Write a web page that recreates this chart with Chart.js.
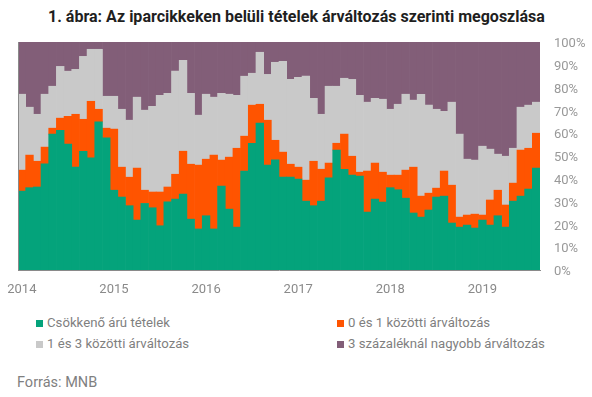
<!DOCTYPE html>
<html>
<head>
<meta charset="utf-8">
<script src="https://cdn.jsdelivr.net/npm/chart.js@4.4.1/dist/chart.umd.min.js"></script>
<style>
  body { margin: 0; background: #fff; font-family: Roboto, 'Noto Sans', sans-serif; }
  #wrap { position: relative; width: 592px; height: 397px; overflow: hidden; }
  #title { position: absolute; top: 6px; left: 0; width: 592px; text-align: center;
           font-size: 17px; font-weight: 700; color: #1f1f1f; white-space: nowrap; }
  #title span { display: inline-block; transform-origin: center center; }
  #chartBox { position: absolute; left: 0; top: 0; width: 592px; height: 305px; }
  .leg { position: absolute; font-size: 13.2px; line-height: 16px; color: #7f7f7f; white-space: nowrap; }
  .leg i { position: absolute; left: 0; top: 4.5px; width: 7px; height: 7px; }
  .leg span { position: absolute; left: 11px; top: 0; }
  #source { position: absolute; left: 17px; top: 374px; font-size: 14.5px; color: #7f7f7f; }
</style>
</head>
<body>
<div id="wrap">
  <div id="title"><span>1. ábra: Az iparcikkeken belüli tételek árváltozás szerinti megoszlása</span></div>
  <div id="chartBox"><canvas id="chart"></canvas></div>
  <div id="legend"></div>
  <div id="source">Forrás: MNB</div>
</div>
<script>
// évek a vízszintes tengelyen (havi adatok 2014 januártól)
const yearLabels = ['2014', '2015', '2016', '2017', '2018', '2019'];
const monthsInLastYear = 8;

const seriesNames = [
    'Csökkenő árú tételek',
    '0 és 1 közötti árváltozás',
    '1 és 3 közötti árváltozás',
    '3 százaléknál nagyobb árváltozás'
];
const seriesColors = ['#04a37b', '#ff5400', '#c9c9c9', '#825e78'];

// százalékos megoszlás, havonta
const decreasing = [
    34.6, 36.1, 36.4, 46.6, 59.6, 61.3, 55.2, 45.1, 52.1, 49.2, 65.0, 58.0,
    35.0, 32.0, 28.2, 21.9, 29.2, 27.3, 19.4, 29.9, 31.1, 33.3, 22.3, 18.0,
    23.8, 18.0, 36.8, 26.7, 18.8, 43.4, 55.6, 64.4, 46.0, 48.3, 40.7, 40.7,
    39.9, 30.2, 28.2, 30.2, 40.4, 52.6, 44.2, 41.6, 41.2, 25.4, 31.1, 29.8,
    36.1, 35.2, 31.5, 25.0, 23.2, 26.3, 32.0, 32.4, 20.6, 18.8, 19.7, 18.4,
    21.9, 19.7, 23.8, 18.8, 30.2, 32.4, 35.5, 44.7
];
const between0and1 = [
    9.2, 14.3, 11.3, 7.3, 2.6, 5.3, 12.2, 23.2, 14.0, 24.8, 5.5, 4.2,
    26.8, 13.1, 12.5, 22.8, 5.8, 6.9, 14.8, 6.5, 10.9, 18.8, 24.1, 28.0,
    24.8, 32.4, 11.4, 22.8, 34.6, 15.3, 16.7, 8.3, 19.7, 8.6, 11.0, 5.7,
    5.2, 9.2, 19.5, 14.0, 6.5, 3.0, 15.4, 8.3, 1.7, 18.0, 15.8, 13.1,
    5.5, 6.4, 12.3, 20.1, 9.2, 7.4, 3.9, 11.0, 16.6, 4.4, 4.4, 6.1,
    2.2, 11.0, 11.2, 9.7, 7.9, 20.2, 17.9, 15.3
];
const between1and3 = [
    33.3, 21.0, 20.6, 23.2, 18.4, 22.7, 19.8, 19.7, 27.6, 22.8, 26.3, 14.0,
    14.4, 25.4, 25.0, 31.1, 35.1, 37.6, 42.4, 41.1, 45.2, 39.9, 31.1, 21.9,
    28.5, 25.4, 29.3, 27.6, 23.2, 26.3, 14.0, 22.8, 20.1, 34.2, 39.8, 37.2,
    39.4, 45.6, 27.6, 24.1, 33.7, 25.0, 24.5, 33.7, 33.7, 30.2, 28.4, 32.0,
    28.9, 31.1, 33.3, 29.4, 44.7, 38.6, 34.6, 26.2, 36.4, 36.4, 24.5, 23.7,
    30.2, 22.3, 15.8, 21.4, 15.3, 18.8, 18.9, 13.6
];
const above3 = [
    22.9, 28.6, 31.7, 22.9, 19.4, 10.7, 12.8, 12.0, 6.3, 3.2, 3.2, 23.8,
    23.8, 29.5, 34.3, 24.2, 29.9, 28.2, 23.4, 22.5, 12.8, 8.0, 22.5, 32.1,
    22.9, 24.2, 22.5, 22.9, 23.4, 15.0, 13.7, 4.5, 14.2, 8.9, 8.5, 16.4,
    15.5, 15.0, 24.7, 31.7, 19.4, 19.4, 15.9, 16.4, 23.4, 26.4, 24.7, 25.1,
    29.5, 27.3, 22.9, 25.5, 22.9, 27.7, 29.5, 30.4, 26.4, 40.4, 51.4, 51.8,
    45.7, 47.0, 49.2, 50.1, 46.6, 28.6, 27.7, 26.4
];

// havi kategóriák: "2014-01" ...
const months = [];
yearLabels.forEach((y, i) => {
    const n = (i === yearLabels.length - 1) ? monthsInLastYear : 12;
    for (let m = 1; m <= n; m++) months.push(y + '-' + String(m).padStart(2, '0'));
});

// cím összenyomása (keskeny betűtípus helyett)
const titleSpan = document.querySelector('#title span');
titleSpan.style.transform = 'scaleX(' + (497 / titleSpan.offsetWidth) + ')';

// jelmagyarázat két oszlopban
const legendPos = [[36, 315], [337, 315], [36, 336], [337, 336]];
const legendEl = document.getElementById('legend');
[0, 1, 2, 3].forEach(i => {
    const d = document.createElement('div');
    d.className = 'leg';
    d.style.left = legendPos[i][0] + 'px';
    d.style.top = legendPos[i][1] + 'px';
    d.innerHTML = '<i style="background:' + seriesColors[i] + '"></i><span>' + seriesNames[i] + '</span>';
    legendEl.appendChild(d);
});

// bal oldali szürke keretvonal
const leftBorder = {
    id: 'leftBorder',
    afterDatasetsDraw(chart) {
        const {ctx, chartArea} = chart;
        ctx.save();
        ctx.strokeStyle = '#8a8a8a';
        ctx.lineWidth = 1;
        ctx.beginPath();
        ctx.moveTo(chartArea.left + 0.5, chartArea.top);
        ctx.lineTo(chartArea.left + 0.5, chartArea.bottom);
        ctx.stroke();
        ctx.restore();
    }
};

const seriesData = [decreasing, between0and1, between1and3, above3];

const ctx = document.getElementById('chart').getContext('2d');
new Chart(ctx, {
    type: 'bar',
    data: {
        labels: months,
        datasets: seriesData.map((vals, i) => ({
            label: seriesNames[i],
            data: vals,
            backgroundColor: seriesColors[i],
            borderWidth: 0,
            barPercentage: 1.0,
            categoryPercentage: 1.0
        }))
    },
    options: {
        responsive: true,
        maintainAspectRatio: false,
        animation: false,
        layout: { padding: { left: 18, right: 0, top: 42, bottom: 0 } },
        plugins: {
            legend: { display: false },
            tooltip: { enabled: false }
        },
        scales: {
            x: {
                stacked: true,
                grid: { display: false, drawTicks: false },
                border: { display: true, color: '#8a8a8a', width: 1 },
                ticks: {
                    autoSkip: false,
                    maxRotation: 0,
                    padding: 12,
                    color: '#8a8a8a',
                    font: { family: 'Roboto', size: 13 },
                    callback: function (value, index) {
                        return index % 12 === 0 ? yearLabels[index / 12] : '';
                    }
                },
                afterFit: (axis) => {
                    axis.height = 35;
                    axis.paddingLeft = 0;
                    axis.paddingRight = 0;
                }
            },
            y: {
                stacked: true,
                position: 'right',
                min: 0,
                max: 100,
                grid: { display: false, drawTicks: false },
                border: { display: false },
                ticks: {
                    stepSize: 10,
                    padding: 14,
                    labelOffset: 2,
                    color: '#999999',
                    font: { family: 'Roboto', size: 13 },
                    callback: (v) => v + '%'
                },
                afterFit: (axis) => { axis.width = 52; }
            }
        }
    },
    plugins: [leftBorder]
});
</script>
</body>
</html>
